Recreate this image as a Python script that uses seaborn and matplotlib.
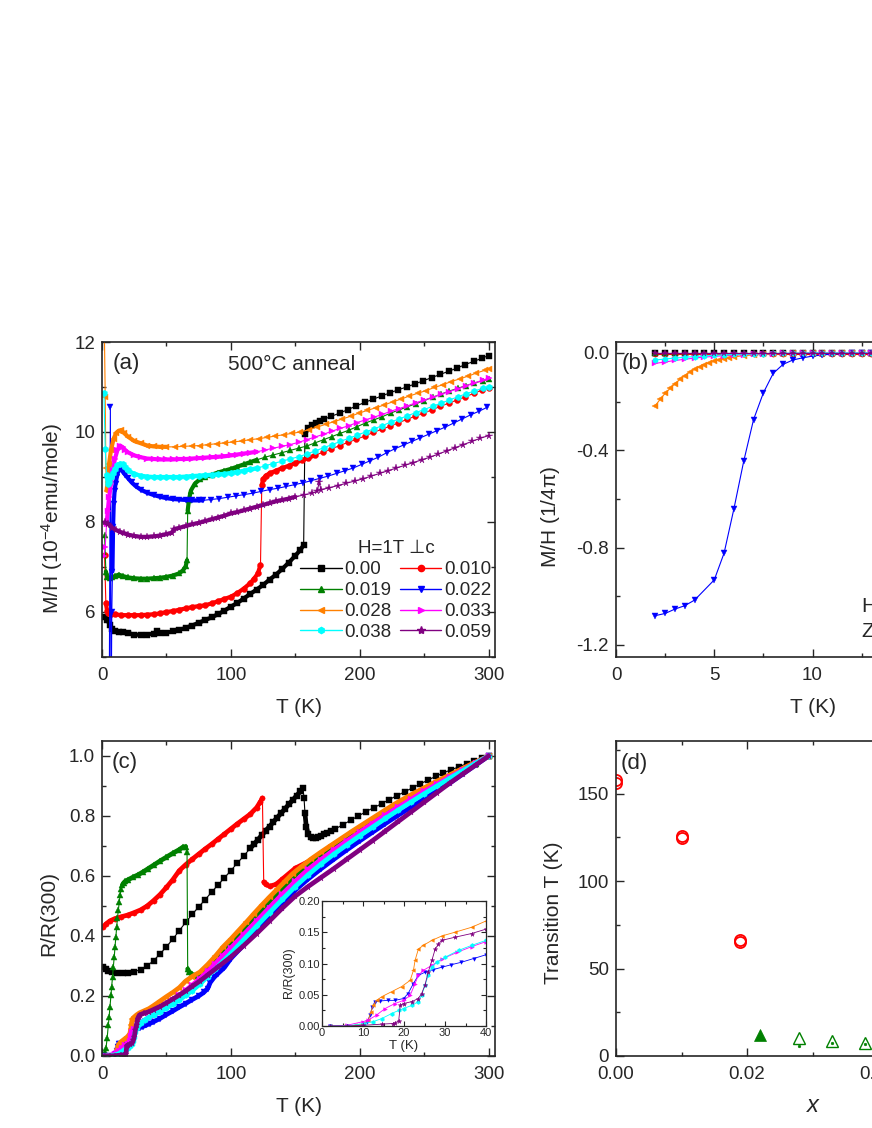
import numpy as np
import matplotlib
matplotlib.use("Agg")
import matplotlib.pyplot as plt
from matplotlib.lines import Line2D
from matplotlib.ticker import MultipleLocator, FormatStrFormatter
import seaborn as sns

# ---------------- values ----------------
x_labels = ["0.00", "0.010", "0.019", "0.022", "0.028", "0.033", "0.038", "0.059"]

# (a) M/H (10^-4 emu/mole), H = 1 T perp c
a_T_000 = [2, 4, 6, 8, 10, 13, 16, 20, 25, 30, 35, 40, 43, 45, 50, 55, 60, 65, 70, 75, 80, 85, 90, 95,
           100, 105, 110, 115, 120, 125, 130, 135, 140, 145, 150, 154, 156.5, 157.5, 160, 163, 166, 169,
           172, 178, 184.5, 191, 197.5, 204, 210.5, 217, 223.5, 230, 236.5, 243, 249.5, 256, 262.5, 269,
           275.5, 282, 288.5, 295, 300]
a_M_000 = [5.88, 5.83, 5.72, 5.63, 5.58, 5.55, 5.55, 5.53, 5.5, 5.49, 5.5, 5.52, 5.58, 5.53, 5.54, 5.57,
           5.6, 5.65, 5.7, 5.76, 5.82, 5.88, 5.95, 6.03, 6.12, 6.2, 6.3, 6.4, 6.5, 6.6, 6.72, 6.83, 6.96,
           7.1, 7.25, 7.38, 7.49, 9.95, 10.08, 10.16, 10.21, 10.25, 10.28, 10.35, 10.42, 10.5, 10.58,
           10.66, 10.73, 10.8, 10.87, 10.94, 11.0, 11.07, 11.14, 11.21, 11.28, 11.35, 11.42, 11.5, 11.57,
           11.64, 11.7]

a_T_010 = [2, 3, 4, 5, 7, 10, 15, 20, 25, 30, 35, 40, 45, 50, 55, 60, 65, 70, 75, 80, 85, 90, 95, 100,
           105, 110, 115, 118, 121, 123, 124, 125, 127, 130, 135, 140, 145, 150, 155, 160, 165, 171.5, 178,
           184.5, 191, 197.5, 204, 210.5, 217, 223.5, 230, 236.5, 243, 249.5, 256, 262.5, 269, 275.5, 282,
           288.5, 295, 300]
a_M_010 = [7.27, 6.2, 6.02, 5.97, 5.96, 5.95, 5.93, 5.93, 5.93, 5.93, 5.94, 5.95, 5.97, 6.0, 6.02, 6.05,
           6.08, 6.11, 6.13, 6.15, 6.19, 6.24, 6.29, 6.34, 6.42, 6.52, 6.64, 6.74, 6.86, 7.05, 8.82, 8.95,
           9.03, 9.08, 9.14, 9.2, 9.25, 9.31, 9.37, 9.42, 9.48, 9.55, 9.62, 9.7, 9.77, 9.84, 9.91, 9.99,
           10.06, 10.13, 10.2, 10.28, 10.35, 10.42, 10.49, 10.57, 10.64, 10.71, 10.78, 10.86, 10.93, 10.98]

a_T_019 = [2, 3, 4, 6, 8, 10, 13, 16, 20, 25, 30, 35, 40, 45, 50, 55, 60, 63, 65, 66, 66.5, 67.5, 69, 72,
           76, 80, 85, 90, 95, 100, 105, 110, 115, 120, 126.5, 133, 139.5, 146, 152.5, 159, 165.5, 172,
           178.5, 185, 191.5, 198, 204.5, 211, 217.5, 224, 230.5, 237, 243.5, 250, 256.5, 263, 269.5, 276,
           282.5, 289, 295.5, 300]
a_M_019 = [7.71, 6.9, 6.78, 6.75, 6.77, 6.8, 6.83, 6.8, 6.77, 6.75, 6.74, 6.74, 6.75, 6.76, 6.78, 6.81,
           6.86, 6.93, 7.02, 7.15, 8.25, 8.5, 8.7, 8.85, 8.95, 9.0, 9.05, 9.1, 9.14, 9.18, 9.23, 9.28, 9.33,
           9.38, 9.44, 9.49, 9.54, 9.59, 9.64, 9.69, 9.76, 9.83, 9.9, 9.97, 10.04, 10.12, 10.2, 10.27,
           10.34, 10.42, 10.49, 10.56, 10.63, 10.7, 10.77, 10.84, 10.91, 10.97, 11.03, 11.09, 11.14, 11.17]

a_T_022 = [5.5, 6.5, 7.0, 7.6, 8.1, 8.6, 9.1, 9.8, 10.5, 11.5, 12.5, 14, 16, 18, 20, 23, 26, 30, 35, 40,
           45, 50, 55, 60, 65, 70, 75, 78, 84.5, 91, 97.5, 104, 110.5, 117, 123.5, 130, 136.5, 143, 149.5,
           156, 162.5, 169, 175.5, 182, 188.5, 195, 201.5, 208, 214.5, 221, 227.5, 234, 240.5, 247, 253.5,
           260, 266.5, 273, 279.5, 286, 292.5, 299]
a_M_022 = [3.0, 10.56, 3.0, 6.0, 6.9, 7.9, 8.4, 8.7, 8.85, 9.0, 9.12, 9.18, 9.12, 9.05, 8.98, 8.88, 8.8,
           8.72, 8.65, 8.6, 8.56, 8.53, 8.51, 8.5, 8.49, 8.48, 8.48, 8.48, 8.5, 8.52, 8.55, 8.58, 8.61,
           8.64, 8.68, 8.72, 8.75, 8.79, 8.83, 8.87, 8.92, 8.97, 9.02, 9.08, 9.14, 9.2, 9.28, 9.36, 9.44,
           9.54, 9.63, 9.71, 9.79, 9.87, 9.95, 10.03, 10.11, 10.2, 10.29, 10.38, 10.46, 10.55]

a_T_028 = [1.5, 2.5, 3.0, 3.5, 4.5, 5.5, 7, 9, 11, 13, 15, 17, 20, 25, 30, 35, 40, 45, 50, 56.5, 63, 69.5,
           76, 82.5, 89, 95.5, 102, 108.5, 115, 121.5, 128, 134.5, 141, 147.5, 154, 160.5, 167, 173.5, 180,
           186.5, 193, 199.5, 206, 212.5, 219, 225.5, 232, 238.5, 245, 251.5, 258, 264.5, 271, 277.5, 284,
           290.5, 297, 300]
a_M_028 = [13.0, 10.78, 9.2, 8.7, 8.9, 9.3, 9.6, 9.85, 9.98, 10.03, 10.04, 9.98, 9.9, 9.8, 9.75, 9.7,
           9.68, 9.67, 9.67, 9.67, 9.68, 9.69, 9.7, 9.72, 9.74, 9.76, 9.78, 9.8, 9.83, 9.85, 9.88, 9.91,
           9.94, 9.97, 10.0, 10.05, 10.11, 10.17, 10.23, 10.29, 10.35, 10.42, 10.48, 10.54, 10.6, 10.67,
           10.73, 10.8, 10.86, 10.92, 10.99, 11.05, 11.12, 11.18, 11.24, 11.31, 11.37, 11.4]

a_T_033 = [1.5, 2.5, 3.5, 4.5, 5.5, 7, 8.5, 10, 12, 14, 16, 18, 20, 25, 30, 35, 40, 45, 50, 55, 60, 65,
           70, 75, 80, 85, 90, 95, 100, 105, 110, 115, 120, 126.5, 133, 139.5, 146, 152.5, 159, 165.5, 172,
           178.5, 185, 191.5, 198, 204.5, 211, 217.5, 224, 230.5, 237, 243.5, 250, 256.5, 263, 269.5, 276,
           282.5, 289, 295.5, 300]
a_M_033 = [7.25, 7.45, 7.95, 8.25, 8.55, 8.85, 9.15, 9.4, 9.6, 9.7, 9.66, 9.6, 9.55, 9.48, 9.44, 9.41,
           9.4, 9.39, 9.39, 9.39, 9.4, 9.4, 9.41, 9.42, 9.43, 9.44, 9.45, 9.46, 9.48, 9.5, 9.52, 9.54, 9.56,
           9.6, 9.64, 9.68, 9.72, 9.77, 9.83, 9.89, 9.95, 10.02, 10.08, 10.14, 10.21, 10.27, 10.33, 10.39,
           10.46, 10.52, 10.58, 10.65, 10.71, 10.77, 10.84, 10.9, 10.96, 11.03, 11.09, 11.15, 11.2]

a_T_038 = [1.5, 2.5, 3.5, 4.5, 5.5, 7, 8.5, 10, 12, 14, 16, 18, 20, 25, 30, 35, 40, 45, 50, 55, 60, 65,
           70, 75, 80, 85, 90, 95, 100, 105, 110, 115, 120, 126.5, 133, 139.5, 146, 152.5, 159, 165.5, 172,
           178.5, 185, 191.5, 198, 204.5, 211, 217.5, 224, 230.5, 237, 243.5, 250, 256.5, 263, 269.5, 276,
           282.5, 289, 295.5, 300]
a_M_038 = [10.86, 9.62, 9.05, 8.85, 8.9, 9.0, 9.1, 9.18, 9.26, 9.3, 9.29, 9.22, 9.15, 9.07, 9.03, 9.01,
           9.0, 9.0, 9.0, 9.0, 9.0, 9.01, 9.02, 9.03, 9.04, 9.05, 9.06, 9.07, 9.09, 9.11, 9.14, 9.17, 9.19,
           9.25, 9.3, 9.35, 9.4, 9.45, 9.51, 9.58, 9.65, 9.72, 9.79, 9.86, 9.93, 10.0, 10.07, 10.14, 10.22,
           10.29, 10.36, 10.43, 10.5, 10.57, 10.64, 10.71, 10.78, 10.85, 10.91, 10.97, 11.01]

a_T_059 = [2, 5, 8, 11, 14, 17, 20, 25, 30, 35, 40, 45, 50, 54, 56, 60, 65, 70, 75, 80, 85, 90, 95, 100,
           105, 110, 115, 120, 125, 130, 135, 140, 145, 150, 156.5, 163, 167, 168.5, 170, 176.5, 183, 189.5,
           196, 202.5, 209, 215.5, 222, 228.5, 235, 241.5, 248, 254.5, 261, 267.5, 274, 280.5, 287, 293.5,
           300]
a_M_059 = [7.99, 7.95, 7.87, 7.82, 7.78, 7.75, 7.72, 7.69, 7.67, 7.67, 7.68, 7.7, 7.73, 7.76, 7.84, 7.87,
           7.91, 7.95, 7.98, 8.02, 8.06, 8.1, 8.14, 8.19, 8.22, 8.26, 8.3, 8.34, 8.38, 8.42, 8.46, 8.49,
           8.52, 8.56, 8.6, 8.64, 8.68, 8.88, 8.72, 8.76, 8.81, 8.86, 8.91, 8.96, 9.02, 9.08, 9.14, 9.2,
           9.26, 9.32, 9.38, 9.44, 9.51, 9.58, 9.65, 9.72, 9.79, 9.86, 9.92]

# (b) M/H (1/4pi), low field ZFC
b_T = [2.0, 2.5, 3.0, 3.5, 4.0, 4.5, 5.0, 5.5, 6.0, 6.5, 7.0, 7.5, 8.0, 8.5, 9.0, 9.5, 10.0, 10.5, 11.0,
       11.5, 12.0, 12.5, 13.0, 13.5, 14.0, 14.5, 15.0, 15.5, 16.0, 16.5, 17.0, 17.5, 18.0, 18.5, 19.0,
       19.5, 20.0]
b_M_000 = [-0.002, -0.002, -0.002, -0.002, -0.002, -0.002, -0.002, -0.002, -0.002, -0.002, -0.002, -0.002,
           -0.002, -0.002, -0.002, -0.002, -0.002, -0.002, -0.002, -0.002, -0.002, -0.002, -0.002, -0.002,
           -0.002, -0.002, -0.002, -0.002, -0.002, -0.002, -0.002, -0.002, -0.002, -0.002, -0.002, -0.002,
           -0.002]
b_M_010 = [-0.003, -0.003, -0.003, -0.003, -0.003, -0.003, -0.003, -0.003, -0.003, -0.003, -0.003, -0.003,
           -0.003, -0.003, -0.003, -0.003, -0.003, -0.003, -0.003, -0.003, -0.003, -0.003, -0.003, -0.003,
           -0.003, -0.003, -0.003, -0.003, -0.003, -0.003, -0.003, -0.003, -0.003, -0.003, -0.003, -0.003,
           -0.003]
b_M_019 = [-0.002, -0.002, -0.002, -0.002, -0.002, -0.002, -0.002, -0.002, -0.002, -0.002, -0.002, -0.002,
           -0.002, -0.002, -0.002, -0.002, -0.002, -0.002, -0.002, -0.002, -0.002, -0.002, -0.002, -0.002,
           -0.002, -0.002, -0.002, -0.002, -0.002, -0.002, -0.002, -0.002, -0.002, -0.002, -0.002, -0.002,
           -0.002]
b_T_022 = [2.0, 2.5, 3.0, 3.5, 4.0, 5.0, 5.5, 6.0, 6.5, 7.0, 7.5, 8.0, 8.5, 9.0, 9.5, 10.0, 10.5, 11.0,
           11.5, 12.0, 12.5, 13.0, 13.5, 14.0, 14.5, 15.0, 15.5, 16.0, 16.5, 17.0, 17.5, 18.0, 18.5, 19.0,
           19.5, 20.0]
b_M_022 = [-1.08, -1.071, -1.053, -1.039, -1.016, -0.933, -0.823, -0.641, -0.445, -0.274, -0.164, -0.084,
           -0.047, -0.029, -0.02, -0.013, -0.008, -0.005, -0.003, -0.002, -0.001, 0.0, 0.0, 0.0, 0.0, 0.0,
           0.0, 0.0, 0.0, 0.0, 0.0, 0.0, 0.0, 0.0, 0.0, 0.0]
b_T_028 = [2.0, 2.25, 2.5, 2.75, 3.0, 3.25, 3.5, 3.75, 4.0, 4.25, 4.5, 4.75, 5.0, 5.25, 5.5, 5.75, 6.0,
           6.5, 7.0, 7.5, 8.0, 8.5, 9.0, 9.5, 10.0, 10.5, 11.0, 11.5, 12.0, 12.5, 13.0, 13.5, 14.0, 14.5,
           15.0, 15.5, 16.0, 16.5, 17.0, 17.5, 18.0, 18.5, 19.0, 19.5, 20.0]
b_M_028 = [-0.217, -0.19, -0.166, -0.146, -0.126, -0.109, -0.093, -0.079, -0.067, -0.057, -0.048, -0.041,
           -0.034, -0.028, -0.023, -0.019, -0.016, -0.011, -0.008, -0.006, -0.004, -0.003, -0.002, -0.001,
           0.0, 0.0, 0.0, 0.0, 0.0, 0.0, 0.0, 0.0, 0.0, 0.0, 0.0, 0.0, 0.0, 0.0, 0.0, 0.0, 0.0, 0.0, 0.0,
           0.0, 0.0]
b_M_033 = [-0.043, -0.037, -0.031, -0.026, -0.021, -0.017, -0.014, -0.011, -0.009, -0.007, -0.005, -0.004,
           -0.003, -0.002, -0.002, -0.001, 0.0, 0.0, 0.0, 0.0, 0.0, 0.0, 0.0, 0.0, 0.0, 0.0, 0.0, 0.0, 0.0,
           0.0, 0.0, 0.0, 0.0, 0.0, 0.0, 0.0, 0.0]
b_M_038 = [-0.029, -0.025, -0.021, -0.018, -0.015, -0.012, -0.01, -0.008, -0.006, -0.005, -0.004, -0.003,
           -0.002, -0.002, -0.001, -0.001, 0.0, 0.0, 0.0, 0.0, 0.0, 0.0, 0.0, 0.0, 0.0, 0.0, 0.0, 0.0, 0.0,
           0.0, 0.0, 0.0, 0.0, 0.0, 0.0, 0.0, 0.0]
b_M_059 = [-0.001, -0.001, -0.001, -0.001, -0.001, -0.001, -0.001, -0.001, -0.001, -0.001, -0.001, -0.001,
           -0.001, -0.001, -0.001, -0.001, -0.001, -0.001, -0.001, -0.001, -0.001, -0.001, -0.001, -0.001,
           -0.001, -0.001, -0.001, -0.001, -0.001, -0.001, -0.001, -0.001, -0.001, -0.001, -0.001, -0.001,
           -0.001]

# (c) R/R(300)
c_T_000 = [1, 3, 5, 8, 12, 16, 20, 25, 30, 35, 40, 45, 50, 55, 60, 65, 70, 75, 80, 85, 90, 95, 100, 105,
           110, 115, 118, 121, 124, 127, 130, 133, 136, 139, 142, 145, 148, 151, 154, 156, 156.8, 157.5,
           158.5, 160, 162, 164, 166, 168, 170, 172, 175, 178, 181, 187, 193, 199, 205, 211, 217, 223, 229,
           235, 241, 247, 253, 259, 265, 271, 277, 283, 289, 295, 300]
c_R_000 = [0.298, 0.29, 0.284, 0.279, 0.276, 0.276, 0.277, 0.281, 0.288, 0.3, 0.318, 0.34, 0.364, 0.39,
           0.418, 0.446, 0.472, 0.497, 0.521, 0.546, 0.57, 0.594, 0.618, 0.643, 0.667, 0.692, 0.706, 0.721,
           0.736, 0.751, 0.765, 0.78, 0.795, 0.809, 0.824, 0.839, 0.853, 0.868, 0.882, 0.892, 0.86, 0.81,
           0.765, 0.74, 0.73, 0.726, 0.727, 0.73, 0.734, 0.739, 0.745, 0.751, 0.757, 0.771, 0.786, 0.8,
           0.815, 0.828, 0.841, 0.855, 0.868, 0.881, 0.894, 0.907, 0.92, 0.932, 0.944, 0.954, 0.964, 0.974,
           0.984, 0.993, 1.0]

c_T_010 = [1, 3, 6, 10, 15, 20, 25, 30, 35, 40, 45, 50, 55, 60, 65, 70, 75, 80, 85, 90, 95, 100, 105, 110,
           115, 120, 123, 124.5, 125.5, 127, 130, 135, 140, 145, 150, 160, 170, 180, 190, 200, 210, 220, 230,
           240, 250, 260, 270, 280, 290, 300]
c_R_010 = [0.431, 0.44, 0.45, 0.458, 0.464, 0.47, 0.478, 0.487, 0.5, 0.518, 0.538, 0.562, 0.588, 0.618,
           0.638, 0.656, 0.673, 0.69, 0.706, 0.723, 0.74, 0.757, 0.774, 0.79, 0.806, 0.828, 0.848, 0.86,
           0.58, 0.572, 0.566, 0.572, 0.59, 0.608, 0.626, 0.648, 0.676, 0.705, 0.733, 0.76, 0.786, 0.812,
           0.838, 0.862, 0.886, 0.91, 0.933, 0.955, 0.978, 1.0]

c_T_019 = [1, 2, 3.1, 4, 4.9, 5.5, 6.2, 7, 7.5, 8.2, 8.8, 9.5, 10.1, 10.8, 11.4, 12, 12.7, 13.4, 14, 15,
           15.8, 17, 18, 20, 24, 28, 32, 36, 40, 45, 50, 55, 60, 63, 65, 66, 66.5, 67.5, 70, 73, 76, 80, 85,
           90, 100, 110, 120, 130, 140, 150, 160, 170, 180, 190, 200, 210, 220, 230, 240, 250, 260, 270,
           280, 290, 300]
c_R_019 = [0.005, 0.012, 0.026, 0.06, 0.103, 0.13, 0.164, 0.205, 0.231, 0.265, 0.298, 0.33, 0.364, 0.398,
           0.431, 0.46, 0.487, 0.513, 0.537, 0.556, 0.57, 0.578, 0.582, 0.587, 0.596, 0.604, 0.614, 0.625,
           0.636, 0.65, 0.663, 0.676, 0.688, 0.697, 0.698, 0.68, 0.29, 0.281, 0.272, 0.268, 0.274, 0.29,
           0.312, 0.336, 0.38, 0.425, 0.47, 0.515, 0.56, 0.603, 0.64, 0.672, 0.7, 0.727, 0.755, 0.782, 0.81,
           0.836, 0.86, 0.884, 0.907, 0.93, 0.952, 0.975, 1.0]

c_T_022 = [2, 6, 10, 11, 11.7, 12.3, 12.9, 14.1, 16, 17.8, 19.9, 21, 22.3, 23.5, 25.1, 27, 29.2, 31.5, 34,
           37, 40, 45, 50, 55, 60, 65, 70, 75, 79, 82, 84, 87, 90, 95, 100, 110, 120, 130, 140, 150, 160,
           170, 180, 190, 200, 210, 220, 230, 240, 250, 260, 270, 280, 290, 300]
c_R_022 = [0.0, 0.0, 0.002, 0.006, 0.0175, 0.031, 0.039, 0.04, 0.041, 0.041, 0.044, 0.052, 0.068, 0.081,
           0.086, 0.09, 0.094, 0.098, 0.102, 0.108, 0.114, 0.125, 0.138, 0.15, 0.163, 0.175, 0.188, 0.2,
           0.212, 0.225, 0.245, 0.262, 0.275, 0.295, 0.325, 0.37, 0.418, 0.465, 0.51, 0.553, 0.59, 0.624,
           0.656, 0.687, 0.717, 0.746, 0.775, 0.803, 0.83, 0.857, 0.884, 0.91, 0.94, 0.97, 1.0]

c_T_028 = [2, 5, 8, 10, 11.3, 11.95, 12.5, 13.3, 14.6, 17, 19.4, 21.5, 22.3, 22.7, 23.5, 24.7, 26.8, 29.2,
           32.4, 36.5, 40, 45, 50, 55, 60, 65, 70, 76, 82, 88, 94, 100, 106, 112, 118, 124, 130, 136, 142,
           148, 155, 162, 170, 178, 186, 194, 202, 210, 218, 226, 234, 242, 250, 258, 266, 274, 282, 290, 300]
c_R_028 = [0.0, 0.0, 0.001, 0.003, 0.0095, 0.023, 0.033, 0.041, 0.047, 0.055, 0.063, 0.073, 0.089, 0.105,
           0.123, 0.129, 0.137, 0.144, 0.15, 0.158, 0.168, 0.183, 0.198, 0.212, 0.228, 0.25, 0.265, 0.28,
           0.305, 0.333, 0.364, 0.39, 0.418, 0.446, 0.475, 0.503, 0.53, 0.556, 0.582, 0.608, 0.632, 0.656,
           0.68, 0.703, 0.726, 0.749, 0.771, 0.793, 0.815, 0.837, 0.857, 0.876, 0.894, 0.912, 0.929, 0.946,
           0.963, 0.98, 1.0]

c_T_033 = [2, 6, 10, 11.3, 13.3, 15.4, 17.8, 19.9, 21.5, 22.7, 23.5, 24.7, 26.8, 29.2, 33, 36.5, 40, 45,
           50, 55, 60, 65, 70, 76, 82, 88, 94, 100, 110, 120, 130, 140, 150, 160, 170, 180, 190, 200, 210,
           220, 230, 240, 250, 260, 270, 280, 290, 300]
c_R_033 = [0.0, 0.001, 0.007, 0.0095, 0.0175, 0.028, 0.036, 0.041, 0.049, 0.068, 0.081, 0.089, 0.097,
           0.107, 0.118, 0.127, 0.135, 0.152, 0.17, 0.186, 0.202, 0.219, 0.236, 0.258, 0.282, 0.308, 0.335,
           0.36, 0.405, 0.45, 0.495, 0.54, 0.582, 0.622, 0.655, 0.687, 0.717, 0.746, 0.775, 0.803, 0.83,
           0.856, 0.882, 0.906, 0.93, 0.953, 0.977, 1.0]

c_T_038 = [2, 6, 10.2, 12.5, 14.6, 17, 18.7, 19.9, 21.9, 23.5, 24.3, 25.1, 25.9, 26.8, 28, 30, 33.3, 36.5,
           40, 45, 50, 55, 60, 65, 70, 76, 82, 88, 94, 100, 110, 120, 130, 140, 150, 160, 170, 180, 190, 200,
           210, 220, 230, 240, 250, 260, 270, 280, 290, 300]
c_R_038 = [0.0, 0.0, 0.004, 0.007, 0.012, 0.02, 0.025, 0.028, 0.033, 0.039, 0.049, 0.065, 0.081, 0.094,
           0.102, 0.11, 0.121, 0.129, 0.137, 0.148, 0.16, 0.173, 0.187, 0.202, 0.218, 0.24, 0.265, 0.29,
           0.316, 0.342, 0.388, 0.433, 0.478, 0.522, 0.565, 0.604, 0.64, 0.673, 0.704, 0.734, 0.763, 0.792,
           0.82, 0.847, 0.874, 0.9, 0.926, 0.951, 0.976, 1.0]

c_T_059 = [2, 6, 10, 14.6, 17.3, 17.8, 18.7, 19.1, 19.9, 21.9, 23.5, 24.3, 25.1, 25.9, 26.8, 27.6, 28.4,
           29.2, 32.4, 36.5, 40, 45, 50, 55, 60, 65, 70, 76, 82, 90, 100, 110, 120, 130, 140, 150, 160, 170,
           180, 190, 200, 210, 220, 230, 240, 250, 260, 270, 280, 290, 300]
c_R_059 = [0.0, 0.0, 0.001, 0.003, 0.004, 0.005, 0.008, 0.033, 0.036, 0.039, 0.044, 0.052, 0.065, 0.086,
           0.105, 0.123, 0.131, 0.137, 0.142, 0.148, 0.155, 0.165, 0.177, 0.19, 0.203, 0.217, 0.232, 0.25,
           0.27, 0.297, 0.33, 0.368, 0.408, 0.45, 0.493, 0.533, 0.565, 0.595, 0.625, 0.656, 0.687, 0.718,
           0.75, 0.782, 0.814, 0.846, 0.878, 0.91, 0.94, 0.97, 1.0]

# (d) transition temperatures vs x
d_x_circ_a = [0.0, 0.010, 0.019]
d_T_circ_a = [157.5, 125.9, 66.5]
d_x_circ_b = [0.0, 0.010, 0.019]
d_T_circ_b = [155.8, 124.5, 65.2]
d_x_tri_full = [0.022]
d_T_tri_full = [11.9]
d_x_tri_open = [0.028, 0.033, 0.038]
d_T_tri_open = [10.3, 8.4, 7.7]
d_x_dot = [0.028, 0.033, 0.038]
d_T_dot = [5.7, 7.7, 7.1]

# ---------------- styles ----------------
colors = ["#000000", "#FF0000", "#008000", "#0000FF", "#FF8000", "#FF00FF", "#00FFFF", "#800080"]
markers = ["s", "o", "^", "v", "<", ">", "h", "*"]

a_series = [(a_T_000, a_M_000), (a_T_010, a_M_010), (a_T_019, a_M_019), (a_T_022, a_M_022),
            (a_T_028, a_M_028), (a_T_033, a_M_033), (a_T_038, a_M_038), (a_T_059, a_M_059)]
a_dense = [[(2, 43), (45, 156.5), (157.5, 172)], [(3, 123), (124, 165)], [(3, 66), (66.5, 120)],
           [(8.1, 78)], [(3.5, 50)], [(3.5, 120)], [(3.5, 120)], [(2, 150)]]
b_series = [(b_T, b_M_000), (b_T, b_M_010), (b_T, b_M_019), (b_T_022, b_M_022),
            (b_T_028, b_M_028), (b_T, b_M_033), (b_T, b_M_038), (b_T, b_M_059)]
c_series = [(c_T_000, c_R_000), (c_T_010, c_R_010), (c_T_019, c_R_019), (c_T_022, c_R_022),
            (c_T_028, c_R_028), (c_T_033, c_R_033), (c_T_038, c_R_038), (c_T_059, c_R_059)]
c_dense = [[(1, 12), (115, 156), (157.5, 182)], [(1, 124.5), (125.5, 300)], [(15.8, 65), (66.5, 300)],
           [(2, 300)], [(2, 300)], [(2, 300)], [(2, 300)], [(2, 300)]]

sns.set_style("ticks")
plt.rcParams["font.family"] = ["Liberation Sans", "DejaVu Sans"]
plt.rcParams["mathtext.default"] = "regular"
plt.rcParams["axes.unicode_minus"] = False

W, H = 872, 1128
fig = plt.figure(figsize=(W / 100, H / 100), dpi=100)


def box(left, top, w, h):
    return [left / W, 1 - (top + h) / H, w / W, h / H]


def trace(ax, T, y, k, ms, lw, dense=(), lw_dense=3.0):
    T = np.asarray(T, float)
    y = np.asarray(y, float)
    c, m = colors[k], markers[k]
    size = ms * 1.3 if m == "*" else (ms * 1.1 if m == "h" else ms)
    for lo, hi in dense:
        sel = (T >= lo) & (T <= hi)
        sns.lineplot(x=T[sel], y=y[sel], ax=ax, color=c, linewidth=lw_dense,
                     estimator=None, sort=False, legend=False)
    sns.lineplot(x=T, y=y, ax=ax, color=c, linewidth=lw, marker=m, markersize=size,
                 mec=c, mew=0.3, estimator=None, sort=False, legend=False)


def style(ax, xmaj, xmin, ymaj, ymin, fs=13.5, pad=5, xpad=7):
    ax.xaxis.set_major_locator(MultipleLocator(xmaj))
    ax.xaxis.set_minor_locator(MultipleLocator(xmin))
    ax.yaxis.set_major_locator(MultipleLocator(ymaj))
    ax.yaxis.set_minor_locator(MultipleLocator(ymin))
    ax.tick_params(which="both", direction="in", top=True, right=True, labelsize=fs, pad=pad)
    ax.tick_params(axis="x", which="both", pad=xpad)
    ax.tick_params(which="major", length=6, width=1)
    ax.tick_params(which="minor", length=3, width=1)
    for s in ax.spines.values():
        s.set_linewidth(1.2)
    ax.grid(False)


ax_a = fig.add_axes(box(102, 342, 393, 315))
ax_b = fig.add_axes(box(616, 342, 393, 315))
ax_c = fig.add_axes(box(102, 741, 393, 315))
ax_d = fig.add_axes(box(616, 741, 393, 315))
ax_in = fig.add_axes(box(322, 901, 164, 125))

# (a)
for k, (T, y) in enumerate(a_series):
    trace(ax_a, T, y, k, ms=4.3, lw=0.8, dense=a_dense[k], lw_dense=3.0)
ax_a.set_xlim(0, 305)
ax_a.set_ylim(5, 12)
style(ax_a, 100, 50, 2, 1)
ax_a.set_xlabel("T (K)", fontsize=15)
ax_a.xaxis.set_label_coords(0.5, -0.13)
ax_a.set_ylabel(r"M/H (10$^{-4}$emu/mole)", fontsize=15)
ax_a.yaxis.set_label_coords(-0.094, 0.44)
ax_a.text(0.028, 0.933, "(a)", transform=ax_a.transAxes, fontsize=16, va="center", ha="left")
ax_a.text(0.32, 0.927, "500°C anneal", transform=ax_a.transAxes, fontsize=15, va="center", ha="left")

handles = [Line2D([], [], color=colors[k], marker=markers[k], lw=1, mec=colors[k],
                  markersize=4.5 if markers[k] != "*" else 6) for k in range(8)]
order = [0, 2, 4, 6, 1, 3, 5, 7]
leg = ax_a.legend([handles[i] for i in order], [x_labels[i] for i in order], ncol=2,
                  title="H=1T \u22a5c", title_fontsize=13.5, fontsize=13.5, frameon=False,
                  loc="upper left", bbox_to_anchor=(0.505, 0.37), borderaxespad=0, borderpad=0,
                  handlelength=2.2, handletextpad=0.15, columnspacing=0.45, labelspacing=0.2)

# (b)
for k, (T, y) in enumerate(b_series):
    trace(ax_b, T, y, k, ms=3.8, lw=0.8)
ax_b.set_xlim(0, 20)
ax_b.set_ylim(-1.25, 0.045)
style(ax_b, 5, 2.5, 0.4, 0.2)
ax_b.yaxis.set_major_formatter(FormatStrFormatter("%.1f"))
ax_b.set_xlabel("T (K)", fontsize=15)
ax_b.xaxis.set_label_coords(0.5, -0.13)
ax_b.set_ylabel(r"M/H (1/4$\pi$)", fontsize=15)
ax_b.yaxis.set_label_coords(-0.137, 0.444)
ax_b.text(0.015, 0.933, "(b)", transform=ax_b.transAxes, fontsize=16, va="center", ha="left")
ax_b.text(0.625, 0.16, "H=20 Oe", transform=ax_b.transAxes, fontsize=15, va="center", ha="left")
ax_b.text(0.625, 0.08, "ZFC", transform=ax_b.transAxes, fontsize=15, va="center", ha="left")

# (c)
for k, (T, y) in enumerate(c_series):
    trace(ax_c, T, y, k, ms=3.8, lw=0.8, dense=c_dense[k], lw_dense=3.4)
ax_c.set_xlim(0, 305)
ax_c.set_ylim(0, 1.05)
style(ax_c, 100, 50, 0.2, 0.1)
ax_c.yaxis.set_major_formatter(FormatStrFormatter("%.1f"))
ax_c.set_xlabel("T (K)", fontsize=15)
ax_c.xaxis.set_label_coords(0.5, -0.13)
ax_c.set_ylabel("R/R(300)", fontsize=15)
ax_c.yaxis.set_label_coords(-0.112, 0.451)
ax_c.text(0.025, 0.933, "(c)", transform=ax_c.transAxes, fontsize=16, va="center", ha="left")

# inset of (c)
for k in [3, 4, 5, 6, 7]:
    T, y = c_series[k]
    trace(ax_in, T, y, k, ms=2.6, lw=0.6)
ax_in.set_xlim(0, 40)
ax_in.set_ylim(0, 0.2)
style(ax_in, 10, 5, 0.05, 0.025, fs=8, pad=1.5, xpad=1.2)
ax_in.tick_params(which="major", length=3.5, width=0.8)
ax_in.tick_params(which="minor", length=2, width=0.8)
for s in ax_in.spines.values():
    s.set_linewidth(0.9)
ax_in.yaxis.set_major_formatter(FormatStrFormatter("%.2f"))
ax_in.set_xlabel("T (K)", fontsize=9.5)
ax_in.xaxis.set_label_coords(0.5, -0.115)
ax_in.set_ylabel("R/R(300)", fontsize=9)
ax_in.yaxis.set_label_coords(-0.165, 0.43)

# (d)
sns.lineplot(x=d_x_circ_a, y=d_T_circ_a, ax=ax_d, linestyle="none", marker="o", markersize=8,
             markerfacecolor="none", mec="#FF0000", mew=1.3, estimator=None, sort=False, legend=False)
sns.lineplot(x=d_x_circ_b, y=d_T_circ_b, ax=ax_d, linestyle="none", marker="o", markersize=8,
             markerfacecolor="none", mec="#FF0000", mew=1.3, estimator=None, sort=False, legend=False)
sns.lineplot(x=d_x_tri_full, y=d_T_tri_full, ax=ax_d, linestyle="none", marker="^", markersize=9,
             color="#008000", mec="#008000", mew=0.5, estimator=None, sort=False, legend=False)
sns.lineplot(x=d_x_tri_open, y=d_T_tri_open, ax=ax_d, linestyle="none", marker="^", markersize=9,
             markerfacecolor="none", mec="#008000", mew=1.0, estimator=None, sort=False, legend=False)
sns.lineplot(x=d_x_dot, y=d_T_dot, ax=ax_d, linestyle="none", marker="o", markersize=2,
             color="#008000", mec="#008000", mew=0.3, estimator=None, sort=False, legend=False)
ax_d.set_xlim(0, 0.06)
ax_d.set_ylim(0, 180)
style(ax_d, 0.02, 0.01, 50, 25)
ax_d.xaxis.set_major_formatter(FormatStrFormatter("%.2f"))
ax_d.set_xlabel("x", fontsize=17, fontstyle="italic")
ax_d.xaxis.set_label_coords(0.5, -0.12)
ax_d.set_ylabel("Transition T (K)", fontsize=15)
ax_d.yaxis.set_label_coords(-0.135, 0.454)
ax_d.text(0.013, 0.93, "(d)", transform=ax_d.transAxes, fontsize=16, va="center", ha="left")

fig.savefig("out.png", dpi=100)
